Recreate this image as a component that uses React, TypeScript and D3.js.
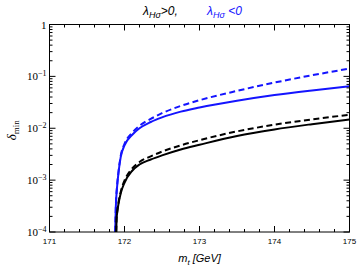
import * as d3 from "d3"

// [m_t (GeV), delta_min]
const blueSolid: [number, number][] = [
  [171.876, 1e-4], [171.885, 3.2e-4], [171.9, 7.1e-4], [171.92, 0.0014], [171.95, 0.0028],
  [172.0, 0.0047], [172.1, 0.0074], [172.2, 0.01], [172.35, 0.0132], [172.5, 0.0162],
  [172.75, 0.0209], [173.0, 0.0251], [173.5, 0.0339], [174.0, 0.0437], [174.5, 0.0537],
  [175, 0.0646],
]
const blueDashed: [number, number][] = [
  [171.876, 1e-4], [171.885, 3.3e-4], [171.9, 7.4e-4], [171.92, 0.00145], [171.95, 0.00295],
  [172.0, 0.005], [172.1, 0.0081], [172.2, 0.0112], [172.35, 0.0151], [172.5, 0.0195],
  [172.75, 0.0269], [173.0, 0.0347], [173.5, 0.0525], [174.0, 0.0759], [174.5, 0.105],
  [175, 0.141],
]
const blackSolid: [number, number][] = [
  [171.89, 1e-4], [171.895, 1.8e-4], [171.905, 2.5e-4], [171.92, 3.5e-4], [171.95, 5.6e-4],
  [172.0, 8.9e-4], [172.1, 0.0015], [172.2, 0.002], [172.35, 0.0025], [172.5, 0.003],
  [172.75, 0.0039], [173.0, 0.0048], [173.5, 0.0071], [174.0, 0.0095], [174.5, 0.012],
  [175, 0.0148],
]
const blackDashed: [number, number][] = [
  [171.89, 1e-4], [171.895, 1.9e-4], [171.905, 2.6e-4], [171.92, 3.7e-4], [171.95, 6.0e-4],
  [172.0, 9.8e-4], [172.1, 0.00166], [172.2, 0.00224], [172.35, 0.00288], [172.5, 0.00355],
  [172.75, 0.00468], [173.0, 0.00589], [173.5, 0.0087], [174.0, 0.0117], [174.5, 0.0148],
  [175, 0.0182],
]
const xTicks = [171, 172, 173, 174, 175]
const yTicks = [1e-4, 1e-3, 1e-2, 1e-1, 1]
const yExps = ["-4", "-3", "-2", "-1", ""]

const BLUE = "#1414ff"

export default function App() {
  const W = 357, H = 269
  const m = { left: 49.5, right: 7.5, top: 24.5, bottom: 37 }
  const x = d3.scaleLinear().domain([171, 175]).range([m.left, W - m.right])
  const y = d3.scaleLog().domain([1e-4, 1]).range([H - m.bottom, m.top])
  const line = d3.line<[number, number]>()
    .x(d => x(d[0]))
    .y(d => y(d[1]))
    .curve(d3.curveMonotoneX)

  const x0 = x.range()[0], x1 = x.range()[1]
  const y0 = y.range()[0], y1 = y.range()[1]

  const xMinor = d3.range(171, 175.001, 0.2).filter(v => Math.abs(v - Math.round(v)) > 0.01)
  const yMinor: number[] = []
  for (let e = -4; e < 0; e++) for (let k = 2; k <= 9; k++) yMinor.push(k * Math.pow(10, e))

  const series = [
    { d: blueDashed, c: BLUE, dash: "6,3.5" },
    { d: blueSolid, c: BLUE, dash: undefined },
    { d: blackDashed, c: "#000", dash: "6,3.5" },
    { d: blackSolid, c: "#000", dash: undefined },
  ]

  return (
    <svg width={W} height={H} style={{ position: "absolute", left: 0, top: 0 }}>
      <defs>
        <clipPath id="clip">
          <rect x={x0} y={y1} width={x1 - x0} height={y0 - y1} />
        </clipPath>
      </defs>
      <rect width={W} height={H} fill="#fff" />
      <g clipPath="url(#clip)">
        {series.map((s, i) => (
          <path key={i} d={line(s.d) ?? ""} fill="none" stroke={s.c} strokeWidth={2}
            strokeDasharray={s.dash} />
        ))}
      </g>
      <g stroke="#000" strokeWidth={1}>
        {xTicks.map(t => (
          <g key={t}>
            <line x1={x(t)} x2={x(t)} y1={y0} y2={y0 - 6} />
            <line x1={x(t)} x2={x(t)} y1={y1} y2={y1 + 6} />
          </g>
        ))}
        {xMinor.map((t, i) => (
          <g key={i}>
            <line x1={x(t)} x2={x(t)} y1={y0} y2={y0 - 3} />
            <line x1={x(t)} x2={x(t)} y1={y1} y2={y1 + 3} />
          </g>
        ))}
        {yTicks.map(t => (
          <g key={t}>
            <line x1={x0} x2={x0 + 6} y1={y(t)} y2={y(t)} />
            <line x1={x1} x2={x1 - 6} y1={y(t)} y2={y(t)} />
          </g>
        ))}
        {yMinor.map((t, i) => (
          <g key={i}>
            <line x1={x0} x2={x0 + 3} y1={y(t)} y2={y(t)} />
            <line x1={x1} x2={x1 - 3} y1={y(t)} y2={y(t)} />
          </g>
        ))}
        <rect x={x0} y={y1} width={x1 - x0} height={y0 - y1} fill="none" />
      </g>
      <g fontFamily="'Liberation Sans', Arial, sans-serif" fontSize={8} textAnchor="middle">
        {xTicks.map(t => (
          <text key={t} x={x(t)} y={y0 + 12}>{t}</text>
        ))}
      </g>
      <g fontFamily="'Liberation Serif', 'Times New Roman', serif" fontSize={11} textAnchor="end">
        {yTicks.map((t, i) => (
          <text key={t} x={x0 - 3} y={y(t) + 4}>
            {yExps[i] === "" ? "1" : <>10<tspan dy={-4.5} fontSize={8}>{"\u2212" + yExps[i].slice(1)}</tspan></>}
          </text>
        ))}
      </g>
      <text x={(x0 + x1) / 2} y={262} textAnchor="middle"
        fontFamily="'Liberation Sans', Arial, sans-serif" fontSize={11} fontStyle="italic">
        m<tspan dy={2.5} fontSize={8}>t</tspan><tspan dy={-2.5}> [GeV]</tspan>
      </text>
      <text transform={`translate(16,${(y0 + y1) / 2 + 2}) rotate(-90)`} textAnchor="middle"
        fontFamily="'Liberation Serif', 'Times New Roman', serif" fontSize={13}>
        <tspan fontStyle="italic">δ</tspan><tspan dy={3} fontSize={9}>min</tspan>
      </text>
      <g fontFamily="'Liberation Sans', Arial, sans-serif" fontSize={12} fontStyle="italic">
        <text x={143} y={15} fill="#000">
          λ<tspan dy={2.5} fontSize={9}>Hσ</tspan><tspan dy={-2.5}>{">0,"}</tspan>
        </text>
        <text x={207} y={15} fill={BLUE}>
          λ<tspan dy={2.5} fontSize={9}>Hσ</tspan><tspan dy={-2.5}>{" <0"}</tspan>
        </text>
      </g>
    </svg>
  )
}
